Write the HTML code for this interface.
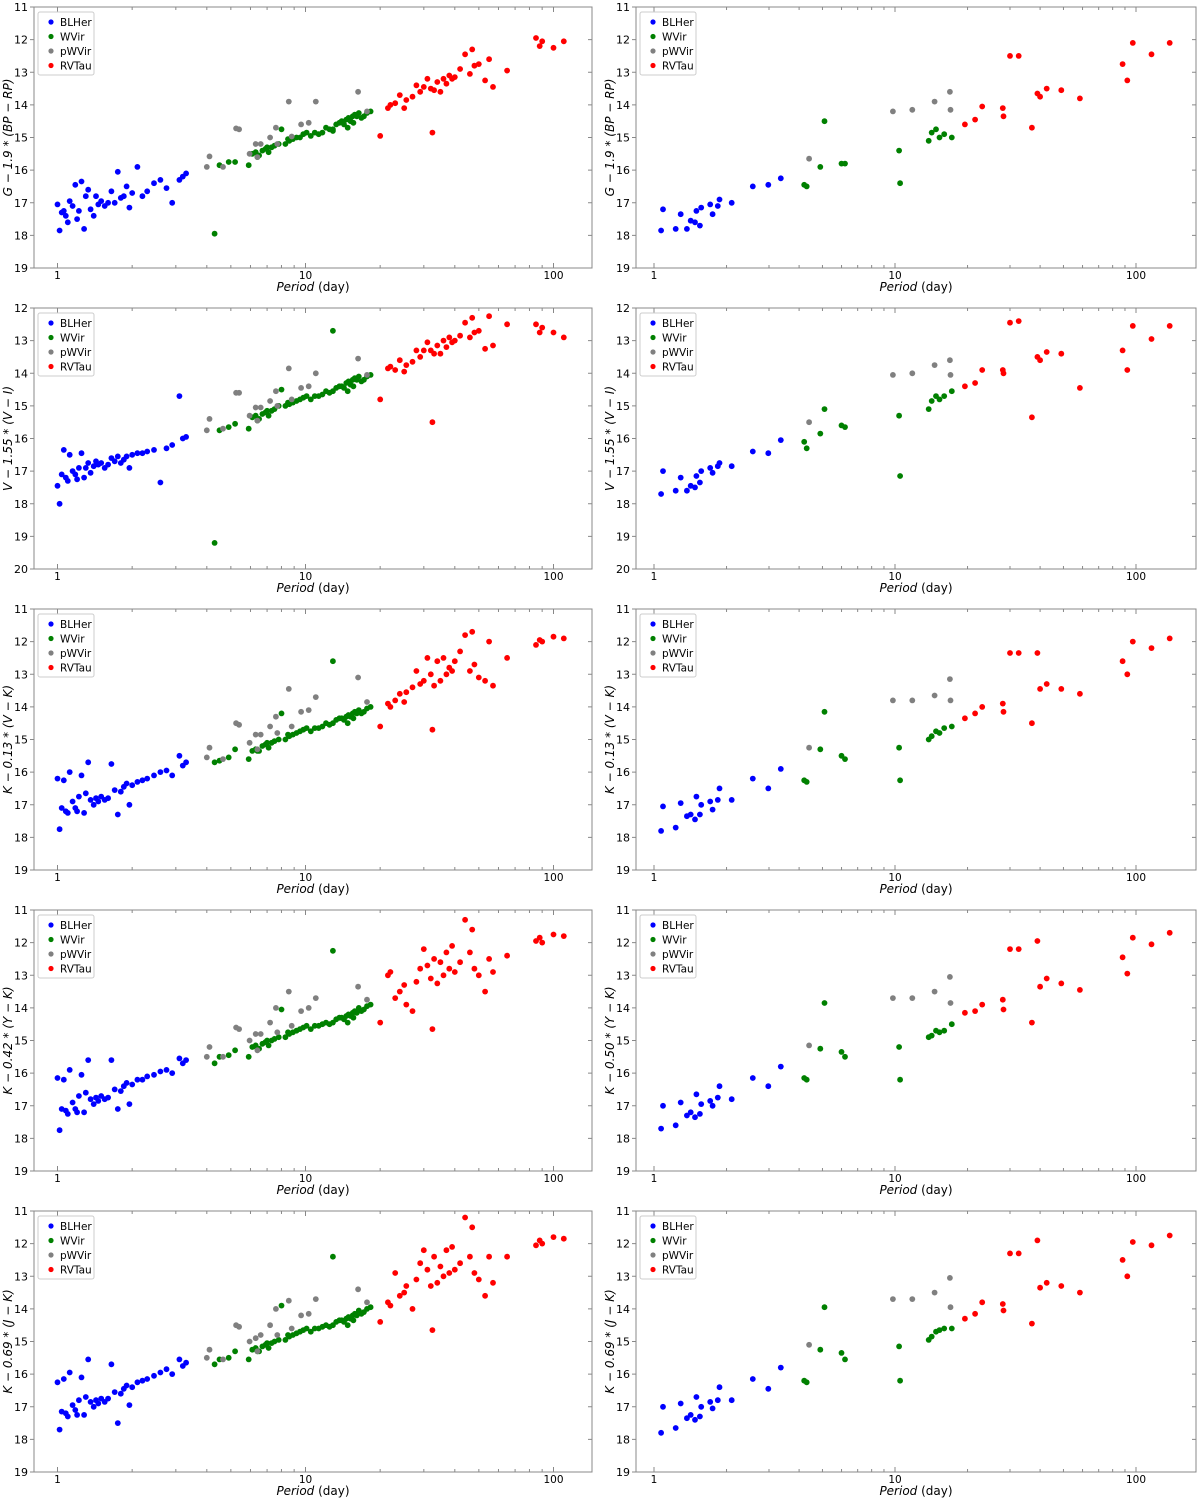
<!DOCTYPE html>
<html><head><meta charset="utf-8"><style>
body{margin:0;background:#fff;}
svg{display:block;font-family:"DejaVu Sans","Liberation Sans",sans-serif;}
</style></head><body>
<svg id="chart" width="1200" height="1502" viewBox="0 0 1200 1502" xmlns="http://www.w3.org/2000/svg"></svg>
<script>
// ---- Left column periods ----
const P_BL_L=[1.0,1.02,1.04,1.06,1.08,1.1,1.12,1.15,1.18,1.2,1.22,1.25,1.28,1.3,1.33,1.36,1.4,1.43,1.46,1.5,1.55,1.6,1.65,1.7,1.75,1.8,1.85,1.9,1.95,2.0,2.1,2.2,2.3,2.45,2.6,2.75,2.9,3.1,3.2,3.3];
const P_WV_L=[4.3,4.5,4.9,5.2,5.9,6.1,6.3,6.5,6.7,6.9,7.1,7.3,7.5,7.8,8.0,8.3,8.6,8.9,9.2,9.5,9.8,10.1,10.5,10.9,11.3,11.7,12.1,12.5,12.9,13.3,13.7,14.0,14.3,14.6,14.9,15.2,15.5,15.8,16.1,16.4,16.8,17.2,17.7,18.3,12.9,8.5,7.0,6.4,14.8,15.6];
const P_PW_L=[4.0,4.1,4.65,5.25,5.4,5.95,6.3,6.4,6.6,7.2,7.6,7.7,8.56,8.8,9.6,10.3,11.0,17.7,16.3];
const P_RV_L=[20,21.5,22,23,24,25,25.5,27,28,29,30,31,32,32.5,33,34,35,36,37,38,39,40,42,44,46,47,48,50,53,55,57,65,85,88,90,100,110];
// ---- Left column magnitudes per panel ----
const L1_BL=[17.05,17.85,17.3,17.25,17.4,17.6,16.95,17.1,16.45,17.5,17.25,16.35,17.8,16.8,16.6,17.2,17.4,16.8,17.05,16.95,17.1,17.0,16.65,17.0,16.05,16.85,16.8,16.5,17.15,16.7,15.9,16.8,16.65,16.4,16.3,16.55,17.0,16.3,16.2,16.1];
const L2_BL=[17.45,18.0,17.1,16.35,17.2,17.3,16.5,17.0,17.1,17.25,16.9,16.45,17.2,16.9,16.75,17.05,16.85,16.7,16.8,16.75,16.9,16.8,16.6,16.7,16.55,16.75,16.65,16.55,16.9,16.5,16.45,16.45,16.4,16.35,17.35,16.3,16.2,14.7,16.0,15.95];
const L3_BL=[16.2,17.75,17.1,16.25,17.2,17.25,16.0,16.9,17.1,17.2,16.75,16.1,17.25,16.65,15.7,16.85,17.0,16.8,16.9,16.75,16.85,16.8,15.75,16.55,17.3,16.6,16.45,16.35,17.0,16.4,16.3,16.25,16.2,16.1,16.0,15.95,16.1,15.5,15.8,15.7];
const L4_BL=[16.15,17.75,17.1,16.2,17.15,17.25,15.9,16.9,17.1,17.2,16.7,16.05,17.2,16.6,15.6,16.8,16.95,16.75,16.85,16.7,16.8,16.75,15.6,16.5,17.1,16.55,16.4,16.3,16.95,16.35,16.2,16.2,16.1,16.05,15.95,15.9,16.0,15.55,15.7,15.6];
const L5_BL=[16.25,17.7,17.15,16.15,17.2,17.3,15.95,16.95,17.1,17.25,16.8,16.1,17.25,16.7,15.55,16.85,17.0,16.8,16.9,16.75,16.85,16.75,15.7,16.55,17.5,16.6,16.45,16.35,16.95,16.4,16.25,16.2,16.15,16.05,15.95,15.85,16.0,15.55,15.75,15.65];
const L1_WV=[17.95,15.85,15.75,15.75,15.85,15.5,15.45,15.55,15.4,15.35,15.45,15.3,15.25,15.2,14.75,15.2,15.1,15.05,15.0,15.0,14.9,14.85,14.95,14.85,14.9,14.85,14.7,14.75,14.75,14.6,14.55,14.5,14.6,14.45,14.4,14.5,14.35,14.3,14.35,14.25,14.4,14.35,14.25,14.2,14.8,15.05,15.3,15.6,14.7,14.55];
const L2_WV=[19.2,15.75,15.65,15.55,15.7,15.35,15.3,15.4,15.25,15.2,15.3,15.15,15.1,15.0,14.5,15.0,14.95,14.9,14.85,14.8,14.75,14.7,14.8,14.7,14.7,14.65,14.55,14.6,14.55,14.45,14.4,14.4,14.45,14.3,14.25,14.35,14.2,14.15,14.2,14.1,14.25,14.2,14.1,14.05,12.7,14.9,15.15,15.45,14.55,14.4];
const L3_WV=[15.7,15.65,15.55,15.3,15.6,15.35,15.3,15.35,15.2,15.15,15.25,15.1,15.05,15.0,14.2,15.0,14.9,14.85,14.8,14.75,14.7,14.65,14.75,14.65,14.65,14.6,14.5,14.55,14.5,14.4,14.35,14.35,14.4,14.3,14.25,14.3,14.2,14.15,14.2,14.1,14.2,14.15,14.05,14.0,12.6,14.85,15.1,15.35,14.5,14.35];
const L4_WV=[15.7,15.5,15.45,15.3,15.5,15.2,15.15,15.25,15.1,15.05,15.15,15.0,14.95,14.9,14.05,14.9,14.8,14.75,14.7,14.65,14.6,14.55,14.65,14.55,14.55,14.5,14.45,14.5,14.45,14.35,14.3,14.3,14.35,14.25,14.2,14.25,14.15,14.1,14.15,14.0,14.1,14.05,13.95,13.9,12.25,14.75,15.0,15.25,14.45,14.3];
const L5_WV=[15.7,15.55,15.5,15.3,15.55,15.25,15.2,15.3,15.15,15.1,15.2,15.05,15.0,14.95,13.9,14.95,14.85,14.8,14.75,14.7,14.65,14.6,14.7,14.6,14.6,14.55,14.5,14.55,14.5,14.4,14.35,14.35,14.4,14.3,14.25,14.3,14.2,14.15,14.2,14.05,14.15,14.1,14.0,13.95,12.4,14.8,15.05,15.3,14.5,14.35];
const L1_PW=[15.9,15.58,15.9,14.72,14.75,15.5,15.2,15.6,15.2,15.0,14.7,15.2,13.9,14.97,14.6,14.55,13.9,14.2,13.6];
const L2_PW=[15.75,15.4,15.7,14.6,14.6,15.3,15.05,15.45,15.05,14.85,14.55,15.0,13.85,14.8,14.45,14.4,14.0,14.05,13.55];
const L3_PW=[15.55,15.25,15.6,14.5,14.55,15.1,14.85,15.3,14.85,14.6,14.3,14.8,13.45,14.6,14.15,14.1,13.7,13.85,13.1];
const L4_PW=[15.5,15.2,15.5,14.6,14.65,15.0,14.8,15.3,14.8,14.45,14.0,14.75,13.5,14.55,14.1,14.0,13.7,13.75,13.35];
const L5_PW=[15.5,15.25,15.55,14.5,14.55,15.0,14.9,15.3,14.8,14.5,14.0,14.8,13.75,14.6,14.2,14.15,13.7,13.8,13.4];
const L1_RV=[14.95,14.1,14.0,13.95,13.7,14.1,13.85,13.75,13.4,13.6,13.45,13.2,13.5,14.85,13.55,13.3,13.6,13.2,13.35,13.1,13.2,13.15,12.9,12.45,13.05,12.3,12.8,12.75,13.25,12.6,13.45,12.95,11.95,12.2,12.05,12.25,12.05];
const L2_RV=[14.8,13.85,13.8,13.9,13.6,13.95,13.75,13.65,13.3,13.5,13.3,13.05,13.3,15.5,13.4,13.15,13.4,13.0,13.2,12.9,13.05,13.0,12.85,12.45,12.9,12.3,12.75,12.7,13.25,12.25,13.15,12.5,12.5,12.75,12.6,12.75,12.9];
const L3_RV=[14.6,13.9,14.0,13.8,13.6,13.85,13.55,13.4,12.9,13.3,13.2,12.5,13.0,14.7,13.35,12.6,13.2,12.5,13.0,12.8,12.9,12.6,12.3,11.8,12.9,11.7,12.7,13.1,13.2,12.0,13.35,12.5,12.1,11.95,12.0,11.85,11.9];
const L4_RV=[14.45,13.0,12.9,13.7,13.5,13.3,13.9,14.1,13.2,12.8,12.2,12.7,13.1,14.65,12.5,13.25,12.6,13.0,12.3,12.8,12.1,12.9,12.6,11.3,12.3,11.6,12.8,13.0,13.5,12.5,12.9,12.4,11.95,11.85,12.0,11.75,11.8];
const L5_RV=[14.4,13.8,13.9,12.9,13.6,13.5,13.3,14.0,13.1,12.6,12.2,12.8,13.3,14.65,12.4,13.2,12.7,13.0,12.2,12.9,12.1,12.8,12.6,11.2,12.4,11.5,12.9,13.1,13.6,12.4,13.2,12.4,12.05,11.9,12.0,11.8,11.85];
// ---- Right column periods ----
const P_BL_R=[1.07,1.09,1.23,1.29,1.37,1.42,1.48,1.5,1.55,1.57,1.71,1.75,1.84,1.87,2.1,2.57,2.98,3.36];
const P_WV_R=[4.2,4.3,4.9,5.1,6.0,6.2,10.4,10.5,13.8,14.2,14.8,15.3,16.0,17.2];
const P_PW_R=[4.4,9.8,11.8,14.6,16.9,17.0];
const P_RV_R=[19.5,21.5,23,28,28.2,30,32.6,37,39,40,42.6,49,58.5,88,92,97,116,138];
// ---- Right column magnitudes ----
const R1_BL=[17.85,17.2,17.8,17.35,17.8,17.55,17.6,17.25,17.7,17.15,17.05,17.35,17.1,16.9,17.0,16.5,16.45,16.25];
const R2_BL=[17.7,17.0,17.6,17.2,17.6,17.45,17.5,17.15,17.35,17.0,16.9,17.05,16.85,16.75,16.85,16.4,16.45,16.05];
const R3_BL=[17.8,17.05,17.7,16.95,17.35,17.3,17.45,16.75,17.3,17.0,16.9,17.15,16.85,16.5,16.85,16.2,16.5,15.9];
const R4_BL=[17.7,17.0,17.6,16.9,17.3,17.2,17.35,16.65,17.25,16.95,16.85,17.0,16.75,16.4,16.8,16.15,16.4,15.8];
const R5_BL=[17.8,17.0,17.65,16.9,17.35,17.25,17.4,16.7,17.3,17.0,16.85,17.05,16.8,16.4,16.8,16.15,16.45,15.8];
const R1_WV=[16.45,16.5,15.9,14.5,15.8,15.8,15.4,16.4,15.1,14.85,14.75,15.0,14.9,15.0];
const R2_WV=[16.1,16.3,15.85,15.1,15.6,15.65,15.3,17.15,15.1,14.85,14.7,14.8,14.7,14.55];
const R3_WV=[16.25,16.3,15.3,14.15,15.5,15.6,15.25,16.25,15.0,14.9,14.75,14.8,14.65,14.6];
const R4_WV=[16.15,16.2,15.25,13.85,15.35,15.5,15.2,16.2,14.9,14.85,14.7,14.75,14.7,14.5];
const R5_WV=[16.2,16.25,15.25,13.95,15.35,15.55,15.15,16.2,14.95,14.85,14.7,14.65,14.6,14.6];
const R1_PW=[15.65,14.2,14.15,13.9,13.6,14.15];
const R2_PW=[15.5,14.05,14.0,13.75,13.6,14.05];
const R3_PW=[15.25,13.8,13.8,13.65,13.15,13.8];
const R4_PW=[15.15,13.7,13.7,13.5,13.05,13.85];
const R5_PW=[15.1,13.7,13.7,13.5,13.05,13.95];
const R1_RV=[14.6,14.45,14.05,14.1,14.35,12.5,12.5,14.7,13.65,13.75,13.5,13.55,13.8,12.75,13.25,12.1,12.45,12.1];
const R2_RV=[14.4,14.3,13.9,13.9,14.0,12.45,12.4,15.35,13.5,13.6,13.35,13.4,14.45,13.3,13.9,12.55,12.95,12.55];
const R3_RV=[14.35,14.2,14.0,13.9,14.15,12.35,12.35,14.5,12.35,13.45,13.3,13.45,13.6,12.6,13.0,12.0,12.2,11.9];
const R4_RV=[14.15,14.1,13.9,13.75,14.05,12.2,12.2,14.45,11.95,13.35,13.1,13.25,13.45,12.45,12.95,11.85,12.05,11.7];
const R5_RV=[14.3,14.15,13.8,13.85,14.05,12.3,12.3,14.45,11.9,13.35,13.2,13.3,13.5,12.5,13.0,11.95,12.05,11.75];
// ---- Axis config ----
const yRanges=[[11,19],[12,20],[11,19],[11,19],[11,19]];
const yLabelsL=["G − 1.9 * (BP − RP)","V − 1.55 * (V − I)","K − 0.13 * (V − K)","K − 0.42 * (Y − K)","K − 0.69 * (J − K)"];
const yLabelsR=["G − 1.9 * (BP − RP)","V − 1.55 * (V − I)","K − 0.13 * (V − K)","K − 0.50 * (Y − K)","K − 0.69 * (J − K)"];
const classNames=["BLHer","WVir","pWVir","RVTau"];
const classColors=["#0000ff","#008000","#808080","#ff0000"];
const xTickVals=[1,10,100];

const NS="http://www.w3.org/2000/svg";
const svg=document.getElementById('chart');
function mk(tag,attrs,parent){const e=document.createElementNS(NS,tag);for(const k in attrs)e.setAttribute(k,attrs[k]);(parent||svg).appendChild(e);return e;}

const leftData=[[L1_BL,L1_WV,L1_PW,L1_RV],[L2_BL,L2_WV,L2_PW,L2_RV],[L3_BL,L3_WV,L3_PW,L3_RV],[L4_BL,L4_WV,L4_PW,L4_RV],[L5_BL,L5_WV,L5_PW,L5_RV]];
const rightData=[[R1_BL,R1_WV,R1_PW,R1_RV],[R2_BL,R2_WV,R2_PW,R2_RV],[R3_BL,R3_WV,R3_PW,R3_RV],[R4_BL,R4_WV,R4_PW,R4_RV],[R5_BL,R5_WV,R5_PW,R5_RV]];
const leftP=[P_BL_L,P_WV_L,P_PW_L,P_RV_L];
const rightP=[P_BL_R,P_WV_R,P_PW_R,P_RV_R];

const cols=[
 {x0:34,x1:592,one:57.5,dec:248,xmax:141,periods:leftP,data:leftData,labels:yLabelsL,side:'left'},
 {x0:636,x1:1196,one:654,dec:241,xmax:181,periods:rightP,data:rightData,labels:yLabelsR,side:'right'}
];

function drawPanel(col,row){
  const top=7+301*row, bot=top+261;
  const [ymin,ymax]=yRanges[row];
  const g=mk('g',{});
  
  
  const xs=p=>col.one+col.dec*Math.log10(p);
  const ys=m=>top+(m-ymin)/(ymax-ymin)*(bot-top);
  const pg=mk('g',{},g);
  
  
  for(let c=0;c<4;c++){
    const P=col.periods[c], M=col.data[row][c];
    for(let i=0;i<P.length&&i<M.length;i++){
      const ci=mk('circle',{cx:xs(P[i]).toFixed(1),cy:ys(M[i]).toFixed(1),r:2.9,fill:classColors[c]},pg);
      
      
    }
  }
  const fr=mk('rect',{x:col.x0,y:top,width:col.x1-col.x0,height:bot-top,fill:'none',stroke:'#888',"stroke-width":1},g);
  
  
  for(let d=0;d<3;d++){for(let k=1;k<10;k++){
    const v=Math.pow(10,d)*k; if(v>col.xmax) continue;
    const x=xs(v); if(x<col.x0) continue;
    const len=(k===1)?5:3;
    mk('line',{x1:x,x2:x,y1:bot,y2:bot-len,stroke:'#888'},g);
    mk('line',{x1:x,x2:x,y1:top,y2:top+len,stroke:'#888'},g);
  }}
  xTickVals.forEach(v=>{
    const t=mk('text',{x:xs(v),y:bot+11,"text-anchor":"middle","font-size":10.5,fill:'#000'},g);
    t.textContent=String(v);
    
    
  });
  for(let m=ymin;m<=ymax;m++){
    const y=ys(m);
    mk('line',{x1:col.x0-4,x2:col.x0,y1:y,y2:y,stroke:'#888'},g);
    mk('line',{x1:col.x1,x2:col.x1-4,y1:y,y2:y,stroke:'#888'},g);
    const t=mk('text',{x:col.x0-6,y:y+4,"text-anchor":"end","font-size":11,fill:'#000'},g);
    t.textContent=String(m);
    
    
  }
  const xt=mk('text',{x:(col.x0+col.x1)/2,y:bot+23,"text-anchor":"middle","font-size":12,fill:'#000'},g);
  xt.innerHTML='<tspan font-style="italic">Period</tspan> (day)';
  
  
  const cy=(top+bot)/2, cx=col.x0-22;
  const yt=mk('text',{x:cx,y:cy,"text-anchor":"middle","font-size":12,"font-style":"italic",fill:'#000',transform:'rotate(-90 '+cx+' '+cy+')'},g);
  yt.textContent=col.labels[row];
  
  
  const lg=mk('g',{},g);
  
  
  mk('rect',{x:col.x0+4,y:top+5,width:56,height:63,rx:2,fill:'#fff',stroke:'#ccc'},lg);
  for(let c=0;c<4;c++){
    const ly=top+15+c*14.5;
    const e=mk('g',{},lg);
    
    
    mk('circle',{cx:col.x0+17,cy:ly,r:2.6,fill:classColors[c]},e);
    const t=mk('text',{x:col.x0+26,y:ly+4,"font-size":10.5,fill:'#000'},e);
    t.textContent=classNames[c];
  }
}
for(let r=0;r<5;r++){cols.forEach(c=>drawPanel(c,r));}
</script>
</body></html>
